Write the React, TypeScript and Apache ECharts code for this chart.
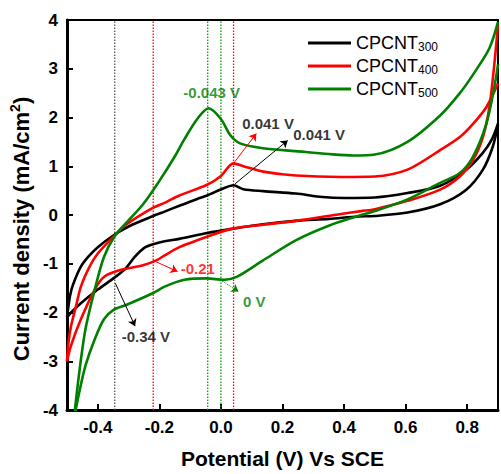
import React, { useEffect, useRef } from "react";
import * as echarts from "echarts";

type Pt = [number, number];

const FONT = "'Liberation Sans', Arial, sans-serif";

const seriesNames = ["CPCNT300", "CPCNT400", "CPCNT500"];
const seriesColors = ["#000000", "#ff0000", "#008000"];

// CPCNT300 (black)
const c300Forward: Pt[] = [
  [-0.5, -2.1], [-0.49, -1.65], [-0.48, -1.42], [-0.455, -1.06], [-0.43, -0.85],
  [-0.4, -0.66], [-0.345, -0.4], [-0.295, -0.22], [-0.22, -0.02], [-0.183, 0.07],
  [-0.135, 0.19], [-0.077, 0.33], [-0.045, 0.4], [0.009, 0.55], [0.041, 0.61],
  [0.073, 0.53], [0.137, 0.49], [0.243, 0.44], [0.33, 0.37], [0.4, 0.35],
  [0.5, 0.36], [0.606, 0.45], [0.712, 0.6], [0.797, 0.93], [0.85, 1.27],
  [0.88, 1.55], [0.9, 1.88],
];
const c300Reverse: Pt[] = [
  [0.9, 1.85], [0.883, 1.4], [0.851, 0.93], [0.797, 0.52], [0.712, 0.22],
  [0.606, 0.05], [0.5, -0.02], [0.446, -0.03], [0.35, -0.08], [0.243, -0.12],
  [0.137, -0.19], [0.03, -0.29], [-0.045, -0.37], [-0.135, -0.49], [-0.183, -0.54],
  [-0.22, -0.6], [-0.25, -0.68], [-0.28, -0.86], [-0.31, -1.1], [-0.345, -1.28],
  [-0.4, -1.53], [-0.455, -1.81], [-0.49, -2.02], [-0.5, -2.1],
];

// CPCNT400 (red)
const c400Forward: Pt[] = [
  [-0.5, -3.0], [-0.495, -2.6], [-0.487, -2.28], [-0.47, -1.85], [-0.455, -1.47],
  [-0.43, -1.1], [-0.4, -0.79], [-0.345, -0.42], [-0.306, -0.19], [-0.22, 0.15],
  [-0.183, 0.25], [-0.135, 0.4], [-0.045, 0.62], [-0.002, 0.79], [0.041, 1.06],
  [0.073, 1.0], [0.137, 0.89], [0.243, 0.81], [0.39, 0.78], [0.5, 0.79],
  [0.606, 0.93], [0.712, 1.33], [0.776, 1.6], [0.819, 1.87], [0.862, 2.21],
  [0.9, 2.7],
];
const c400Reverse: Pt[] = [
  [0.9, 3.9], [0.888, 3.09], [0.872, 2.21], [0.851, 1.6], [0.819, 1.13],
  [0.776, 0.79], [0.712, 0.52], [0.606, 0.29], [0.5, 0.12], [0.456, 0.08],
  [0.39, 0.02], [0.243, -0.12], [0.137, -0.2], [0.03, -0.29], [-0.077, -0.52],
  [-0.135, -0.66], [-0.183, -0.83], [-0.21, -0.93], [-0.253, -1.03], [-0.327, -1.13],
  [-0.38, -1.27], [-0.41, -1.53], [-0.455, -2.14], [-0.487, -2.68], [-0.5, -3.0],
];

// CPCNT500 (green)
const c500Forward: Pt[] = [
  [-0.478, -4.2], [-0.46, -3.22], [-0.44, -2.34], [-0.41, -1.53], [-0.38, -0.86],
  [-0.345, -0.43], [-0.306, -0.15], [-0.253, 0.22], [-0.2, 0.7], [-0.15, 1.2],
  [-0.119, 1.55], [-0.077, 1.97], [-0.04, 2.19], [0.0, 1.97], [0.03, 1.64],
  [0.062, 1.47], [0.137, 1.37], [0.243, 1.31], [0.35, 1.25], [0.43, 1.22],
  [0.5, 1.24], [0.606, 1.5], [0.712, 2.04], [0.776, 2.5], [0.819, 2.88],
  [0.872, 3.42], [0.9, 3.96],
];
const c500Reverse: Pt[] = [
  [0.9, 3.09], [0.888, 2.62], [0.862, 1.87], [0.819, 1.2], [0.776, 0.86],
  [0.712, 0.66], [0.606, 0.32], [0.5, 0.08], [0.446, -0.02], [0.35, -0.22],
  [0.243, -0.52], [0.137, -0.93], [0.051, -1.27], [0.009, -1.33], [-0.045, -1.3],
  [-0.119, -1.33], [-0.183, -1.47], [-0.22, -1.6], [-0.306, -1.84], [-0.348, -1.94],
  [-0.38, -2.14], [-0.41, -2.55], [-0.44, -3.09], [-0.46, -3.63], [-0.478, -4.2],
];

// vertical dotted reference lines: potential and colour
const refLinePotentials = [-0.345, -0.22, -0.043, 0.0, 0.041];
const refLineColors = ["#555555", "#ff0000", "#00a000", "#00a000", "#ff0000"];
const yRange: [number, number] = [-4, 4];

// annotation arrows: from, to, colour, dash
const arrowFrom: Pt[] = [[-0.343, -1.4], [-0.221, -0.93], [-0.002, -1.33], [0.041, 1.06], [0.046, 0.64]];
const arrowTo: Pt[] = [[-0.279, -2.28], [-0.141, -1.16], [0.057, -1.57], [0.115, 1.67], [0.217, 1.53]];
const arrowColors = ["#000000", "#ff0000", "#008000", "#ff0000", "#000000"];
const arrowTypes = ["solid", "solid", "dotted", "solid", "solid"];

// annotation texts
const noteTexts = ["-0.34 V", "-0.21", "0 V", "0.041 V", "0.041 V", "-0.043 V"];
const notePos: Pt[] = [[-0.244, -2.5], [-0.075, -1.1], [0.108, -1.77], [0.153, 1.87], [0.319, 1.65], [-0.03, 2.52]];
const noteColors = ["#000000", "#ff0000", "#008000", "#000000", "#000000", "#008000"];

export default function App() {
  const ref = useRef<HTMLDivElement>(null);
  useEffect(() => {
    if (!ref.current) return;
    const chart = echarts.init(ref.current, undefined, { renderer: "svg" });
    const branches: [string, string, Pt[]][] = [
      [seriesNames[0], seriesColors[0], c300Forward],
      [seriesNames[0], seriesColors[0], c300Reverse],
      [seriesNames[1], seriesColors[1], c400Forward],
      [seriesNames[1], seriesColors[1], c400Reverse],
      [seriesNames[2], seriesColors[2], c500Forward],
      [seriesNames[2], seriesColors[2], c500Reverse],
    ];
    const lineSeries = branches.map(([name, color, data]) => ({
      type: "line",
      name,
      data,
      showSymbol: false,
      symbol: "none",
      smooth: 0.3,
      clip: true,
      color,
      lineStyle: { color, width: 2.6 },
      z: 3,
    }));
    const refSeries = refLinePotentials.map((x, i) => ({
      type: "line",
      name: "ref" + i,
      data: [[x, yRange[0]], [x, yRange[1]]],
      showSymbol: false,
      symbol: "none",
      silent: true,
      color: refLineColors[i],
      lineStyle: { color: refLineColors[i], type: [1.5, 1.5], width: 1.3 },
      z: 2,
    }));
    const option: any = {
      animation: false,
      backgroundColor: "#ffffff",
      grid: { left: 61, right: 2, top: 20, bottom: 57, show: true, borderColor: "#000", borderWidth: 2 },
      legend: {
        orient: "vertical",
        left: 308,
        top: 34,
        padding: 0,
        itemWidth: 43,
        itemHeight: 3,
        itemGap: 4,
        icon: "rect",
        data: seriesNames.map((n) => ({ name: n, icon: "rect" })),
        formatter: (n: string) => `{a|CPCNT}{b|${n.slice(5)}}`,
        textStyle: {
          rich: {
            a: { fontSize: 18, fontFamily: FONT, color: "#000", lineHeight: 20 },
            b: { fontSize: 12, fontFamily: FONT, color: "#000", lineHeight: 6, verticalAlign: "bottom" },
          },
        },
      },
      xAxis: {
        type: "value",
        min: -0.5,
        max: 0.9,
        splitNumber: 7,
        name: "Potential (V) Vs SCE",
        nameLocation: "middle",
        nameGap: 38,
        nameTextStyle: { fontFamily: FONT, fontWeight: "bold", fontSize: 21, color: "#000" },
        axisLine: { onZero: false, lineStyle: { color: "#000", width: 3 } },
        axisTick: { inside: true, length: 6, lineStyle: { color: "#000", width: 2 } },
        axisLabel: {
          margin: 9,
          fontFamily: FONT,
          fontWeight: "bold",
          fontSize: 17,
          color: "#000",
          formatter: (v: number) => (Math.abs(v * 5 - Math.round(v * 5)) < 1e-6 ? v.toFixed(1) : ""),
        },
        splitLine: { show: false },
      },
      yAxis: {
        type: "value",
        min: yRange[0],
        max: yRange[1],
        interval: 1,
        name: "{a|Current density (mA/cm}{s|2}{a|)}",
        nameLocation: "middle",
        nameGap: 26,
        nameTextStyle: {
          padding: [0, 28, 0, 0],
          rich: {
            a: { fontFamily: FONT, fontWeight: "bold", fontSize: 22, color: "#000", lineHeight: 26 },
            s: { fontFamily: FONT, fontWeight: "bold", fontSize: 14, color: "#000", lineHeight: 12, verticalAlign: "top" },
          },
        },
        axisLine: { onZero: false, lineStyle: { color: "#000", width: 3 } },
        axisTick: { inside: true, length: 6, lineStyle: { color: "#000", width: 2 } },
        axisLabel: { margin: 9, fontFamily: FONT, fontWeight: "bold", fontSize: 17, color: "#000" },
        splitLine: { show: false },
      },
      series: [
        ...refSeries,
        ...lineSeries,
        {
          type: "scatter",
          name: "notes",
          symbolSize: 0,
          silent: true,
          z: 5,
          data: notePos.map((p, i) => ({
            value: p,
            label: {
              show: true,
              position: "inside",
              formatter: noteTexts[i],
              color: noteColors[i],
              fontFamily: FONT,
              fontWeight: "bold",
              fontSize: 15,
            },
          })),
          markLine: {
            silent: true,
            symbol: ["none", "arrow"],
            symbolSize: 7,
            label: { show: false },
            data: arrowFrom.map((f, i) => [
              { coord: f, lineStyle: { color: arrowColors[i], width: 1, type: arrowTypes[i] } },
              { coord: arrowTo[i] },
            ]),
          },
        },
      ],
    };
    chart.setOption(option);
    return () => chart.dispose();
  }, []);
  return <div ref={ref} style={{ position: "fixed", left: 0, top: 0, width: 501, height: 474 }} />;
}
